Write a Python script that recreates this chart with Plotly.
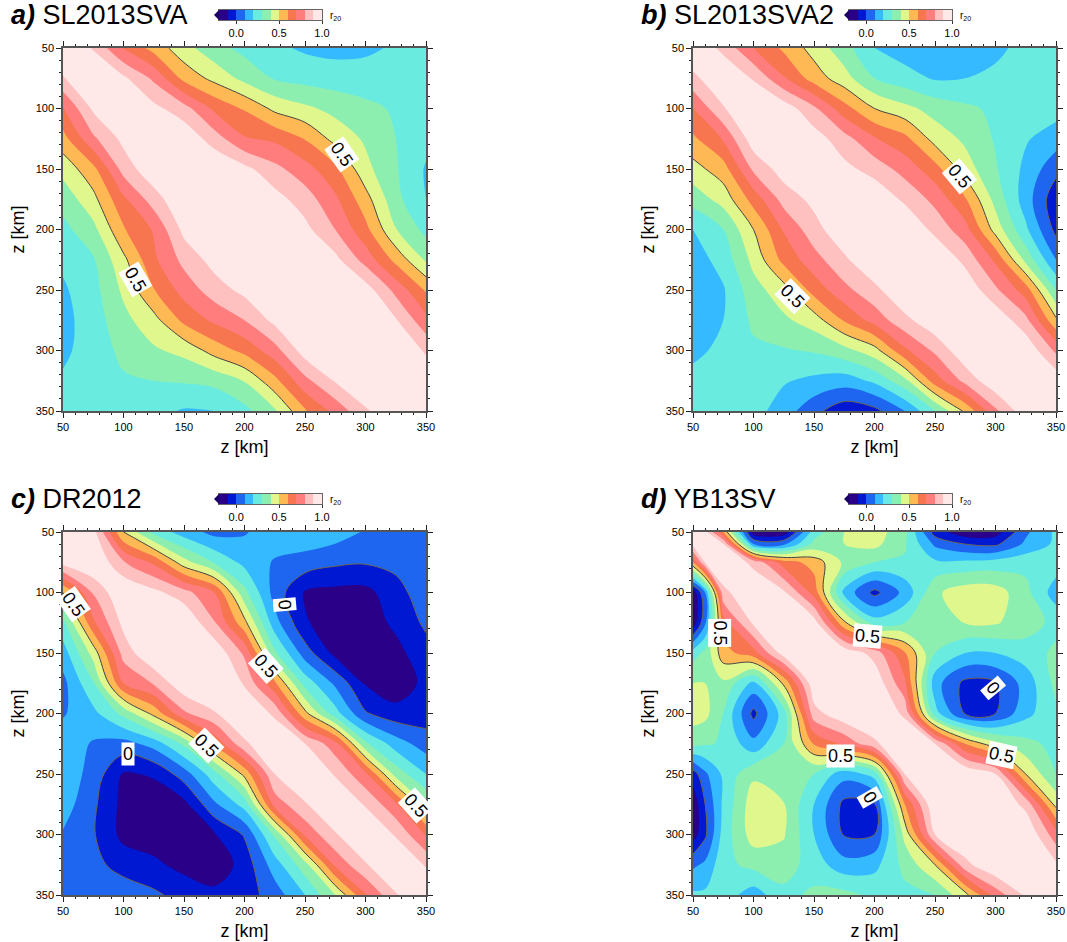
import numpy as np
import plotly.graph_objects as go

z_km = [50, 75, 100, 125, 150, 175, 200, 225, 250, 275, 300, 325, 350]
z_km_d = [50, 60, 75, 100, 125, 150, 175, 200, 225, 250, 275, 300, 325, 350]

a_rows = [
 [1.0,.89,.69,.563,.435,.337,.27,.22,.185,.17,.185,.21,.24],
 [1.0,.92,.78,.57,.47,.37,.29,.265,.25,.235,.225,.22],
 [1,.93,.84,.68,.59,.475,.42,.37,.33,.285,.24],
 [1,.98,.85,.71,.68,.595,.465,.385,.30,.23],
 [1,1,.93,.83,.74,.625,.43,.31,.19],
 [1,1,.94,.85,.72,.54,.33,.2],
 [1,1,.93,.80,.63,.405,.27],
 [1,1,.93,.76,.57,.385],
 [1,1,.95,.77,.59],
 [1,1,.91,.73],
 [1,1,.885],
 [1,.98],
 [1],
]
b_rows = [
 [1,.87,.70,.58,.46,.34,.2,.15,.12,.13,.17,.24,.27],
 [1,.89,.71,.555,.44,.3,.24,.19,.2,.23,.29,.3],
 [1,.96,.82,.64,.5,.43,.36,.32,.28,.26,.24],
 [1,.95,.84,.71,.63,.46,.38,.29,.21,.15],
 [1,.93,.86,.76,.64,.45,.31,.175,.03],
 [1,.98,.88,.77,.61,.365,.15,-.07],
 [1,1,.87,.74,.46,.22,-.03],
 [1,1,.87,.68,.37,.1],
 [1,.98,.82,.65,.3],
 [1,.98,.83,.52],
 [1,.98,.78],
 [1,.97],
 [1],
]
c_rows = [
 [1,.94,.5,.27,.15,.07,.09,.16,.17,.15,.09,.05,.03],
 [1,.81,.68,.44,.29,.17,.09,.06,.02,.01,.03,.03],
 [1,.93,.84,.70,.33,.06,-.11,-.13,-.13,-.04,.06],
 [1,1,.81,.53,.14,-.09,-.15,-.15,-.08,.02],
 [1,.98,.78,.32,.05,-.13,-.17,-.13,-.04],
 [1,.89,.62,.26,.08,-.11,-.17,-.07],
 [1,.88,.53,.24,.01,-.06,-.05],
 [1,.9,.74,.32,.15,.05],
 [1,.89,.72,.36,.2],
 [1,.89,.72,.40],
 [1,.89,.69],
 [1,.89],
 [1],
]
d_rows = [
 [1,.94,.6,-.17,-.17,.25,.4,.45,.33,-.05,-.17,-.15,.08,.22],
 [1,.91,.1,.08,.33,.4,.43,.31,.08,.0,-.02,.12,.22],
 [1,.87,.65,.56,.38,.3,.29,.22,.22,.24,.27,.25],
 [1,.92,.66,.17,-.03,.13,.38,.46,.45,.33,.15],
 [1,.95,.52,.25,.3,.34,.405,.41,.35,.27],
 [1,.98,.86,.61,.3,.2,.2,.25,.32],
 [1,.98,.72,.14,-.03,-.01,.14,.33],
 [1,.88,.24,-.01,.0,.17,.28],
 [1,.9,.6,.43,.33,.27],
 [1,1,.9,.5,.3],
 [1,1,.87,.47],
 [1,1,.74],
 [1,.92],
 [1],
]

band_levels = [-0.2, -0.1, 0.0, 0.1, 0.2, 0.3, 0.4, 0.5, 0.6, 0.7, 0.8, 0.9, 1.0]
band_colors = ["#2a0088","#0018d2","#1e66f0","#35baff","#69ecdf","#8cefb0",
               "#e0f78e","#ffb954","#f7754f","#ff7d7d","#ffc0c0","#ffe8e8"]
below_color = "#1a0060"
colorbar_ticks = [0.0, 0.5, 1.0]
colorbar_ticktext = ["0.0", "0.5", "1.0"]
panel_letters = ["a)", "b)", "c)", "d)"]
panel_names = ["SL2013SVA", "SL2013SVA2", "DR2012", "YB13SV"]
panel_rows = [a_rows, b_rows, c_rows, d_rows]
panel_z = [z_km, z_km, z_km, z_km_d]
label_sets = [
 [("0.5",280,138,55),("0.5",109.5,241,60)],
 [("0.5",270,156,50),("0.5",132,255,45)],
 [("0.5",58.5,109.5,55),("0",233.5,110,85),("0.5",217.5,161,48),("0",104,233.5,0),
  ("0.5",169,226.6,45),("0.5",341,276,48)],
 [("0.5",72,133.5,90),("0.5",194,136,5),("0",298,179,50),("0.5",172,235,0),
  ("0.5",305,234,12),("0",196,269,60)],
]

W, H = 1067, 942
X0 = [63, 693, 63, 693]
Y0 = [48, 48, 532, 532]
SIZE = 363
FONT = "Liberation Sans, Helvetica, Arial, sans-serif"

def sym(rows):
    n = len(rows)
    m = np.zeros((n, n))
    for i, r in enumerate(rows):
        m[i, i:] = r
        m[i:, i] = r
    return m

nb = len(band_colors)
bar_scale = []
for k, c in enumerate(band_colors):
    bar_scale += [[k / nb, c], [(k + 1) / nb, c]]
bar_mids = [(band_levels[k] + band_levels[k + 1]) / 2 for k in range(nb)]

fig = go.Figure()
layout = dict(width=W, height=H, margin=dict(l=0, r=0, t=0, b=0, autoexpand=False),
              paper_bgcolor="white", plot_bgcolor=band_colors[0], showlegend=False,
              font=dict(family=FONT, color="black"))
annotations, shapes = [], []

for p in range(4):
    suffix = "" if p == 0 else str(p + 1)
    xa, ya = "x" + suffix, "y" + suffix
    m = sym(panel_rows[p])
    zs = panel_z[p]
    # plotly shades the side that breaks the constraint, so "<" paints z above the level
    for lev, col in zip(band_levels[1:-1], band_colors[1:]):
        fig.add_trace(go.Contour(
            x=zs, y=zs, z=m, xaxis=xa, yaxis=ya, showscale=False,
            contours=dict(type="constraint", operation="<", value=lev, showlines=False),
            fillcolor=col, line=dict(width=0, smoothing=1.0), hoverinfo="skip",
        ))
    for lev, col in [(0.5, "#444444"), (0.0, "#6b6450")]:
        fig.add_trace(go.Contour(
            x=zs, y=zs, z=m, xaxis=xa, yaxis=ya, showscale=False,
            autocontour=False, contours=dict(start=lev, end=lev, size=1, coloring="none"),
            line=dict(color=col, width=1, smoothing=1.0), hoverinfo="skip",
        ))
    common = dict(tickmode="linear", dtick=50, tick0=50, ticks="outside", ticklen=5,
                  tickwidth=1, tickcolor="#222", showline=True, linecolor="#555", linewidth=1.5,
                  mirror="allticks", showgrid=False, zeroline=False, automargin=False,
                  tickfont=dict(size=11, family=FONT, color="black"),
                  minor=dict(dtick=10, tick0=50, ticks="outside", ticklen=2.5, tickwidth=1,
                             tickcolor="#222", showgrid=False))
    layout["xaxis" + suffix] = dict(common, range=[50, 350],
                        domain=[X0[p] / W, (X0[p] + SIZE) / W], anchor=ya,
                        title=dict(text="z [km]", font=dict(size=18, family=FONT), standoff=8))
    layout["yaxis" + suffix] = dict(common, range=[350, 50],
                        domain=[1 - (Y0[p] + SIZE) / H, 1 - Y0[p] / H], anchor=xa,
                        title=dict(text="z [km]", font=dict(size=18, family=FONT), standoff=6))

    # colour key drawn as a one-row heatmap on its own small axes
    q = p + 5
    bx, by = "x%d" % q, "y%d" % q
    fig.add_trace(go.Heatmap(x=band_levels, y=[0, 1], z=[bar_mids], xaxis=bx, yaxis=by,
                             zmin=band_levels[0], zmax=band_levels[-1], colorscale=bar_scale,
                             showscale=False, hoverinfo="skip"))
    ax, ay = X0[p] + 156, Y0[p] - 38
    layout["xaxis%d" % q] = dict(range=[-0.2, 1.0], domain=[ax / W, (ax + 103) / W], anchor=by,
                                 tickmode="array", tickvals=colorbar_ticks, ticktext=colorbar_ticktext,
                                 ticks="outside", ticklen=3, tickwidth=1, tickcolor="#333",
                                 showline=True, linecolor="#666", linewidth=1, mirror=True,
                                 showgrid=False, zeroline=False, automargin=False,
                                 tickfont=dict(size=11, family=FONT, color="black"))
    layout["yaxis%d" % q] = dict(range=[0, 1], domain=[1 - (ay + 10) / H, 1 - ay / H], anchor=bx,
                                 showticklabels=False, ticks="", showline=True, linecolor="#666",
                                 linewidth=1, mirror=True, showgrid=False, zeroline=False,
                                 automargin=False)

    annotations.append(dict(xref="paper", yref="paper", x=(X0[p] - 54) / W, y=1 - (Y0[p] - 33) / H,
                            xanchor="left", yanchor="middle", showarrow=False,
                            text="<b><i>%s</i></b> %s" % (panel_letters[p], panel_names[p]),
                            font=dict(size=27, family=FONT, color="black")))
    annotations.append(dict(xref="paper", yref="paper", x=(X0[p] + 265) / W, y=1 - (Y0[p] - 32) / H,
                            xanchor="left", yanchor="middle", showarrow=False,
                            text="r<sub>20</sub>", font=dict(size=10, family=FONT, color="black")))
    shapes.append(dict(type="path", xref="paper", yref="paper", line=dict(width=0),
                       fillcolor=below_color,
                       path="M %f %f L %f %f L %f %f Z" % (
                           ax / W, 1 - ay / H, (ax - 5) / W, 1 - (ay + 5) / H, ax / W, 1 - (ay + 10) / H)))
    for txt, lx, ly, ang in label_sets[p]:
        annotations.append(dict(xref=xa, yref=ya, x=lx, y=ly, text=txt, showarrow=False, textangle=ang,
                                bgcolor="white", borderpad=1,
                                font=dict(size=18, family=FONT, color="black")))

layout["annotations"] = annotations
layout["shapes"] = shapes
fig.update_layout(**layout)
fig.write_html("out.html", config={"displayModeBar": False},
               post_script="document.body.style.margin='0';document.body.style.overflow='hidden';")
